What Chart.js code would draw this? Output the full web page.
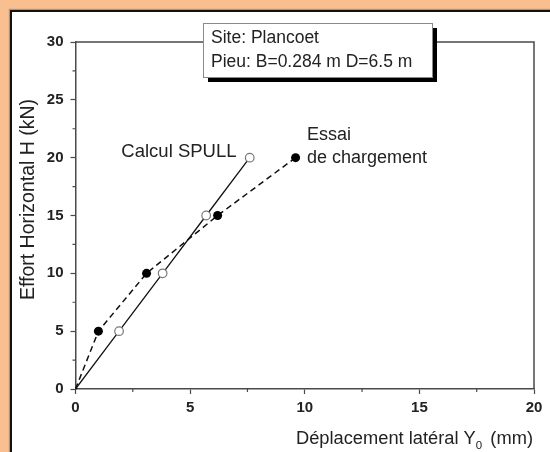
<!DOCTYPE html>
<html>
<head>
<meta charset="utf-8">
<script src="https://cdn.jsdelivr.net/npm/chart.js@4/dist/chart.umd.min.js"></script>
<style>
  html, body { margin: 0; padding: 0; }
  body { width: 550px; height: 452px; background: #fabf8f; position: relative; overflow: hidden; }
  #panel { position: absolute; left: 10px; top: 10px; width: 560px; height: 460px;
           background: #ffffff; border-left: 2px solid #111; border-top: 2px solid #111;
           box-shadow: -1px -1px 1px rgba(0,0,0,0.25); }
  #wrap { position: absolute; left: 0; top: 0; width: 550px; height: 452px; }
</style>
</head>
<body>
<div id="panel"></div>
<div id="wrap"><canvas id="c" width="550" height="452"></canvas></div>
<script>
// Lateral load test, pile at Plancoet: load H (kN) versus lateral displacement Y0 (mm)
const loadsKN = [0, 5, 10, 15, 20];
const spullDisplacementMm = [0, 1.9, 3.8, 5.7, 7.6];     // Calcul SPULL
const testDisplacementMm = [0, 1.0, 3.1, 6.2, 9.6];      // Essai de chargement
const xTicks = [0, 5, 10, 15, 20];
const yTicks = [0, 5, 10, 15, 20, 25, 30];

const FONT = "'Liberation Sans', Arial, sans-serif";
const INK = '#222';
const AXIS = '#4a4a4a';

const toPoints = (xs, ys) => xs.map((x, i) => ({ x: x, y: ys[i] }));

// frame, minor ticks, axis titles and text annotations
const decorations = {
  id: 'decorations',
  afterDraw(chart) {
    const { ctx, chartArea: a, scales: { x, y } } = chart;
    ctx.save();
    // top and right sides of the frame
    ctx.strokeStyle = AXIS;
    ctx.lineWidth = 1.5;
    ctx.beginPath();
    ctx.moveTo(a.left, a.top); ctx.lineTo(a.right, a.top); ctx.lineTo(a.right, a.bottom);
    ctx.stroke();
    // minor ticks halfway between labelled ticks
    ctx.lineWidth = 1.2;
    ctx.beginPath();
    for (let i = 0; i < xTicks.length - 1; i++) {
      const px = x.getPixelForValue((xTicks[i] + xTicks[i + 1]) / 2);
      ctx.moveTo(px, a.bottom); ctx.lineTo(px, a.bottom + 3);
    }
    for (let i = 0; i < yTicks.length - 1; i++) {
      const py = y.getPixelForValue((yTicks[i] + yTicks[i + 1]) / 2);
      ctx.moveTo(a.left, py); ctx.lineTo(a.left - 3, py);
    }
    ctx.stroke();

    ctx.fillStyle = INK;
    // y axis title
    ctx.save();
    ctx.translate(29, 199.5);
    ctx.rotate(-Math.PI / 2);
    ctx.font = '19.5px ' + FONT;
    ctx.textAlign = 'center';
    ctx.textBaseline = 'middle';
    ctx.fillText('Effort Horizontal H (kN)', 0, 0);
    ctx.restore();

    // x axis title with subscript, right-aligned to the axis end
    const big = '18.3px ' + FONT, small = '11.5px ' + FONT;
    const p1 = 'Déplacement latéral Y', p2 = '0', p3 = '  (mm)';
    ctx.font = big; const w1 = ctx.measureText(p1).width, w3 = ctx.measureText(p3).width;
    ctx.font = small; const w2 = ctx.measureText(p2).width;
    let tx = a.right - (w1 + w2 + w3) + 1;
    const base = 444;
    ctx.textAlign = 'left'; ctx.textBaseline = 'alphabetic';
    ctx.font = big; ctx.fillText(p1, tx, base); tx += w1;
    ctx.font = small; ctx.fillText(p2, tx, base + 5); tx += w2;
    ctx.font = big; ctx.fillText(p3, tx - 2, base);

    // series labels next to the curves
    ctx.textBaseline = 'middle';
    ctx.font = '18.5px ' + FONT;
    ctx.fillText('Calcul SPULL', x.getPixelForValue(2.0), y.getPixelForValue(20.5));
    ctx.font = '18px ' + FONT;
    ctx.fillText('Essai', x.getPixelForValue(10.1), y.getPixelForValue(22.0));
    ctx.fillText('de chargement', x.getPixelForValue(10.1), y.getPixelForValue(20.0));

    // site box with drop shadow
    const bx = 203, by = 23, bw = 229, bh = 54;
    ctx.fillStyle = '#000';
    ctx.fillRect(bx + 5, by + 5, bw, bh);
    ctx.fillStyle = '#fff';
    ctx.fillRect(bx, by, bw, bh);
    ctx.strokeStyle = '#8a8a8a';
    ctx.lineWidth = 1;
    ctx.strokeRect(bx + 0.5, by + 0.5, bw, bh);
    ctx.fillStyle = INK;
    ctx.font = '17.5px ' + FONT;
    ctx.textBaseline = 'middle';
    ctx.fillText('Site: Plancoet', 211, 38.5);
    ctx.fillText('Pieu: B=0.284 m D=6.5 m', 211, 62);
    ctx.restore();
  }
};

new Chart(document.getElementById('c'), {
  type: 'scatter',
  data: {
    datasets: [
      {
        label: 'Calcul SPULL',
        data: toPoints(spullDisplacementMm, loadsKN),
        showLine: true,
        borderColor: '#111',
        borderWidth: 1.3,
        pointRadius: ctx => ctx.dataIndex === 0 ? 0 : 4.3,
        pointBackgroundColor: '#fff',
        pointBorderColor: '#7a7a7a',
        pointBorderWidth: 1.2
      },
      {
        label: 'Essai de chargement',
        data: toPoints(testDisplacementMm, loadsKN),
        showLine: true,
        borderColor: '#111',
        borderWidth: 1.5,
        borderDash: [6, 4],
        pointRadius: ctx => ctx.dataIndex === 0 ? 2 : 4.5,
        pointBackgroundColor: '#000',
        pointBorderColor: '#000',
        pointBorderWidth: 0
      }
    ]
  },
  options: {
    responsive: false,
    animation: false,
    events: [],
    layout: { padding: { left: 0, top: 42, right: 16, bottom: 0 } },
    plugins: { legend: { display: false }, tooltip: { enabled: false } },
    scales: {
      x: {
        type: 'linear', min: 0, max: 20,
        afterFit: s => { s.height = 63; },
        afterBuildTicks: s => { s.ticks = xTicks.map(v => ({ value: v })); },
        border: { display: true, color: AXIS, width: 1.5 },
        grid: { display: true, drawOnChartArea: false, drawTicks: true, tickLength: 5, tickColor: AXIS, tickWidth: 1.2 },
        ticks: { color: INK, padding: 5, font: { family: FONT, size: 15, weight: 'bold' }, maxRotation: 0 }
      },
      y: {
        type: 'linear', min: 0, max: 30,
        afterFit: s => { s.width = 75.5; },
        afterBuildTicks: s => { s.ticks = yTicks.map(v => ({ value: v })); },
        border: { display: true, color: AXIS, width: 1.5 },
        grid: { display: true, drawOnChartArea: false, drawTicks: true, tickLength: 5, tickColor: AXIS, tickWidth: 1.2 },
        ticks: { color: INK, padding: 7, font: { family: FONT, size: 15, weight: 'bold' } }
      }
    }
  },
  plugins: [decorations]
});
</script>
</body>
</html>
